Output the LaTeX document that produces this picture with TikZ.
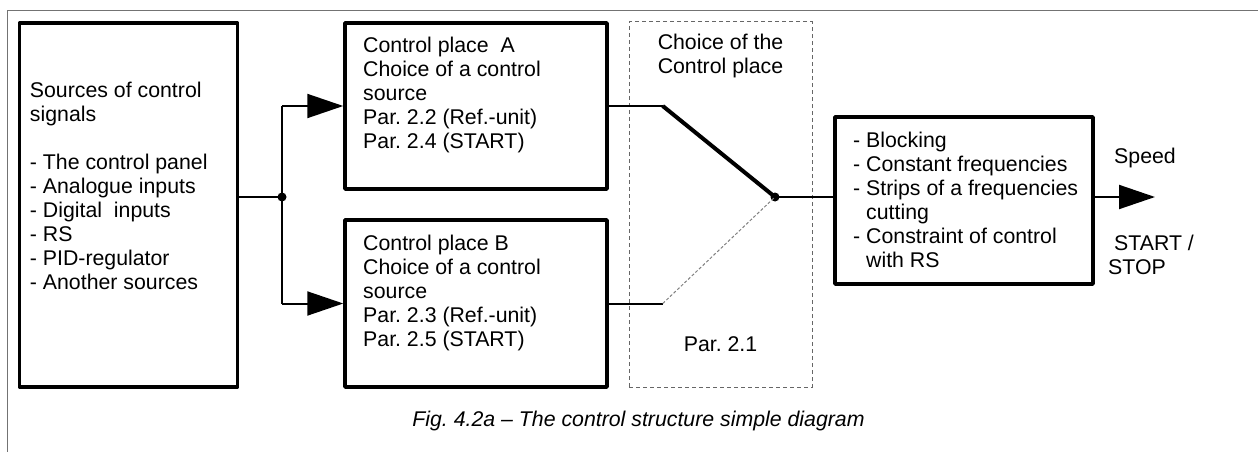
\documentclass[tikz,border=0pt]{standalone}
\usepackage{fontspec}
\setmainfont{Liberation Sans}
\usetikzlibrary{positioning,arrows.meta}
\frenchspacing

\begin{document}
\begin{tikzpicture}[x=1pt,y=-1pt,%
		>={Triangle[length=36pt,width=24pt]},%
		box/.style={draw,line width=3.5pt,line join=round},%
		txt/.style={inner sep=0pt,align=left,%
			font=\fontsize{21.3pt}{24pt}\selectfont},%
		wire/.style={line width=2pt},%
		dot/.style={circle,fill,inner sep=0pt,minimum size=9pt}]
	\useasboundingbox (0,0) rectangle (1258,452);
	\draw[gray!90!black,line width=1pt] (1258,10.5) -- (7,10.5) -- (7,452);

	\node[box,minimum width=218pt,minimum height=364pt] (src) at (128.5,205) {};
	\node[box,minimum width=262pt,minimum height=166pt] (A) at (476,106) {};
	\node[box,minimum width=262pt,minimum height=167pt] (B) at (476,303.5) {};
	\node[draw=gray!80!black,dash pattern=on 4pt off 3pt,line width=1pt,%
		minimum width=183pt,minimum height=365pt] (sel) at (720.5,204.5) {};
	\node[box,minimum width=258pt,minimum height=167pt] (R) at (964,200.5) {};

	\node[txt,below right=61pt and 12pt of src.north west] (srctxt)
		{Sources of control\\signals\\[24pt]- The control panel\\- Analogue inputs\\%
		- Digital\ \ inputs\\- RS\\- PID-regulator\\- Another sources};
	\node[txt,below right=15.5pt and 19.75pt of A.north west] (Atxt)
		{Control place\ \ A\\Choice of a control\\source\\Par. 2.2 (Ref.-unit)\\Par. 2.4 (START)};
	\node[txt,below right=16.5pt and 19.75pt of B.north west] (Btxt)
		{Control place B\\Choice of a control\\source\\Par. 2.3 (Ref.-unit)\\Par. 2.5 (START)};
	\node[txt,align=center,below=12.3pt of sel.north] (seltxt) {Choice of the\\Control place};
	\node[txt,above=35.5pt of sel.south] (par) {Par. 2.1};
	\node[txt,below right=16.5pt and 19.75pt of R.north west] (Rtxt)
		{- Blocking\\- Constant frequencies\\- Strips of a frequencies\\\phantom{- }cutting\\%
		- Constraint of control\\\phantom{- }with RS};
	\node[txt,anchor=base west] (spd) at (1114,163) {Speed};
	\node[txt,anchor=north west] (ss) at (1108,234.8) {\hspace*{.28em}START /\\STOP};
	\node[txt,anchor=base,font=\fontsize{21.3pt}{24pt}\selectfont\itshape] (cap)
		at (638.5,426) {Fig. 4.2a -- The control structure simple diagram};

	\node[dot] (jn) at (282,197) {};
	\node[dot] (sw) at (775,197) {};

	\draw[wire] (src.east |- jn) -- (jn.center);
	\draw[wire] (jn |- A.west) -- (jn |- B.west);
	\foreach \b in {A,B}{
		\draw[wire,->] (jn |- \b.west) -- (\b.west);
	}
	\coordinate[right=54pt of A.east] (ka);
	\coordinate[right=54pt of B.east] (kb);
	\draw[wire] (A.east) -- (ka);
	\draw[line width=4pt] (ka) -- (sw.center);
	\draw[wire] (B.east) -- (kb);
	\draw[gray,dash pattern=on 3pt off 2pt,line width=1pt] (kb) -- (sw.center);
	\draw[wire] (sw.center) -- (R.west |- sw);
	\coordinate (out) at (1155,197);
	\draw[wire,->] (R.east |- sw) -- (out);
\end{tikzpicture}
\end{document}
